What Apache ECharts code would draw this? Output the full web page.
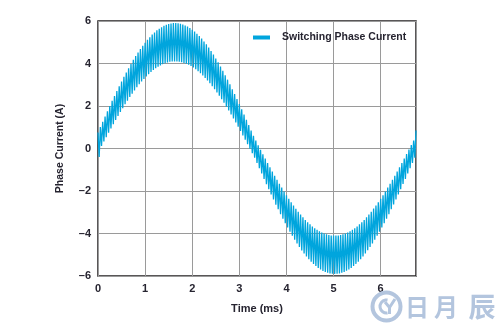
<!DOCTYPE html>
<html>
<head>
<meta charset="utf-8">
<script src="https://cdn.jsdelivr.net/npm/echarts@6/dist/echarts.min.js"></script>
<style>
html,body{margin:0;padding:0;background:#fff;}
#chart{width:504px;height:331px;}
</style>
</head>
<body>
<div id="chart"></div>
<script>
// Sampling grid of the trace (ms)
const sampleStep = 0.025;
// Switching phase current (A), alternating ripple peaks / valleys
const current_0_1ms = [
  0.75, -0.40, 1.01, 0.12, 1.26, 0.33, 1.50, 0.53, 1.75, 0.74,
  2.00, 0.94, 2.24, 1.14, 2.47, 1.34, 2.70, 1.53, 2.93, 1.72,
  3.15, 1.90, 3.37, 2.08, 3.58, 2.25, 3.78, 2.42, 3.98, 2.58,
  4.17, 2.73, 4.35, 2.88, 4.52, 3.02, 4.68, 3.15, 4.84, 3.27
];
const current_1_2ms = [
  4.98, 3.39, 5.12, 3.50, 5.24, 3.60, 5.36, 3.69, 5.46, 3.78,
  5.56, 3.85, 5.64, 3.91, 5.71, 3.97, 5.77, 4.01, 5.82, 4.05,
  5.86, 4.08, 5.88, 4.09, 5.90, 4.10, 5.90, 4.10, 5.89, 4.08,
  5.87, 4.06, 5.84, 4.03, 5.79, 3.99, 5.74, 3.94, 5.67, 3.88
];
const current_2_3ms = [
  5.59, 3.81, 5.50, 3.73, 5.40, 3.64, 5.29, 3.54, 5.17, 3.44,
  5.04, 3.32, 4.90, 3.20, 4.75, 3.07, 4.59, 2.93, 4.42, 2.79,
  4.24, 2.64, 4.06, 2.48, 3.86, 2.32, 3.66, 2.15, 3.45, 1.97,
  3.24, 1.79, 3.02, 1.60, 2.79, 1.41, 2.56, 1.22, 2.33, 1.02
];
const current_3_4ms = [
  2.09, 0.82, 1.85, 0.61, 1.60, 0.41, 1.35, 0.20, 1.10, -0.01,
  0.85, -0.22, 0.60, -0.43, 0.37, -0.68, 0.15, -0.93, -0.06, -1.18,
  -0.27, -1.43, -0.47, -1.68, -0.68, -1.92, -0.88, -2.16, -1.08, -2.40,
  -1.28, -2.64, -1.47, -2.86, -1.66, -3.09, -1.84, -3.31, -2.02, -3.52
];
const current_4_5ms = [
  -2.20, -3.72, -2.37, -3.92, -2.53, -4.11, -2.68, -4.29, -2.84, -4.47,
  -2.98, -4.64, -3.11, -4.80, -3.24, -4.94, -3.36, -5.08, -3.47, -5.21,
  -3.57, -5.33, -3.67, -5.43, -3.75, -5.53, -3.83, -5.62, -3.90, -5.69,
  -3.95, -5.76, -4.00, -5.81, -4.04, -5.85, -4.07, -5.88, -4.09, -5.89
];
const current_5_6ms = [
  -4.10, -5.90, -4.10, -5.89, -4.09, -5.88, -4.07, -5.85, -4.04, -5.81,
  -4.00, -5.75, -3.95, -5.69, -3.90, -5.62, -3.83, -5.53, -3.75, -5.43,
  -3.67, -5.33, -3.57, -5.21, -3.47, -5.08, -3.36, -4.94, -3.24, -4.79,
  -3.11, -4.64, -2.98, -4.47, -2.83, -4.29, -2.68, -4.11, -2.53, -3.92
];
const current_6_675ms = [
  -2.37, -3.72, -2.20, -3.52, -2.02, -3.30, -1.84, -3.09, -1.66, -2.86,
  -1.47, -2.63, -1.28, -2.40, -1.08, -2.16, -0.88, -1.92, -0.68, -1.67,
  -0.47, -1.43, -0.26, -1.18, -0.05, -0.93, 0.16, -0.68, 0.37, -0.43,
  0.85
];
const xTickLabels = ['0', '1', '2', '3', '4', '5', '6'];
const yTickLabels = ['\u20136', '\u20134', '\u20132', '0', '2', '4', '6'];
const seriesName = 'Switching Phase Current';

const currentValues = [].concat(current_0_1ms, current_1_2ms, current_2_3ms,
  current_3_4ms, current_4_5ms, current_5_6ms, current_6_675ms);
const seriesData = currentValues.map((v, i) => [+(i * sampleStep).toFixed(3), v]);

const textColor = '#262430';
const font = '"Liberation Sans", Arial, sans-serif';

const chart = echarts.init(document.getElementById('chart'), null, {renderer: 'canvas'});
chart.setOption({
  animation: false,
  backgroundColor: '#ffffff',
  grid: {
    left: 98, right: 88, top: 21, bottom: 55,
    show: true, borderColor: '#231f20', borderWidth: 1.5,
    containLabel: false
  },
  legend: {
    show: true,
    left: 248, top: 27,
    icon: 'rect',
    itemWidth: 17, itemHeight: 4,
    textStyle: {color: textColor, fontFamily: font, fontWeight: 'bold', fontSize: 10.5, padding: [0, 0, 0, 7]},
    data: [seriesName]
  },
  xAxis: {
    type: 'value', min: 0, max: 6.75, interval: 1,
    name: 'Time (ms)', nameLocation: 'middle', nameGap: 27,
    nameTextStyle: {color: textColor, fontFamily: font, fontWeight: 'bold', fontSize: 11},
    axisLine: {show: false}, axisTick: {show: false},
    axisLabel: {
      color: textColor, fontFamily: font, fontWeight: 'bold', fontSize: 11, margin: 7,
      showMaxLabel: false,
      formatter: v => (Number.isInteger(v) && v >= 0 && v < xTickLabels.length) ? xTickLabels[v] : ''
    },
    splitLine: {show: true, lineStyle: {color: '#9a9a9a', width: 1}}
  },
  yAxis: {
    type: 'value', min: -6, max: 6, interval: 2,
    name: 'Phase Current (A)', nameLocation: 'middle', nameGap: 32, nameRotate: 90,
    nameTextStyle: {color: textColor, fontFamily: font, fontWeight: 'bold', fontSize: 10.5},
    axisLine: {show: false}, axisTick: {show: false},
    axisLabel: {
      color: textColor, fontFamily: font, fontWeight: 'bold', fontSize: 11, margin: 7,
      formatter: v => yTickLabels[Math.round((v + 6) / 2)]
    },
    splitLine: {show: true, lineStyle: {color: '#9a9a9a', width: 1}}
  },
  series: [{
    name: seriesName,
    type: 'line',
    data: seriesData,
    showSymbol: false,
    sampling: null,
    color: '#00a5dd',
    lineStyle: {color: '#00a5dd', width: 1.3},
    clip: true
  }],
  graphic: [
    {type: 'circle', shape: {cx: 386.5, cy: 306.5, r: 14}, style: {fill: 'none', stroke: '#b3c5de', lineWidth: 4}, z: 100},
    {type: 'arc', shape: {cx: 386.5, cy: 306.5, r: 6.5, startAngle: Math.PI * 0.45, endAngle: Math.PI * 1.55}, style: {fill: 'none', stroke: '#b3c5de', lineWidth: 3}, z: 100},
    {type: 'polyline', shape: {points: [[385, 302], [389.5, 307.5], [395, 299]]}, style: {fill: 'none', stroke: '#b3c5de', lineWidth: 3}, z: 100},
    {type: 'polyline', shape: {points: [[389.5, 307.5], [389.5, 314]]}, style: {fill: 'none', stroke: '#b3c5de', lineWidth: 3}, z: 100},
    {type: 'text', x: 417, y: 307, style: {text: '日', fill: '#b3c5de', font: 'bold 24px "Noto Sans CJK SC"', align: 'center', verticalAlign: 'middle'}, z: 100},
    {type: 'text', x: 446, y: 307, style: {text: '月', fill: '#b3c5de', font: 'bold 24px "Noto Sans CJK SC"', align: 'center', verticalAlign: 'middle'}, z: 100},
    {type: 'text', x: 482, y: 307, style: {text: '辰', fill: '#b3c5de', font: 'bold 27px "Noto Sans CJK SC"', align: 'center', verticalAlign: 'middle'}, z: 100}
  ]
});
</script>
</body>
</html>
